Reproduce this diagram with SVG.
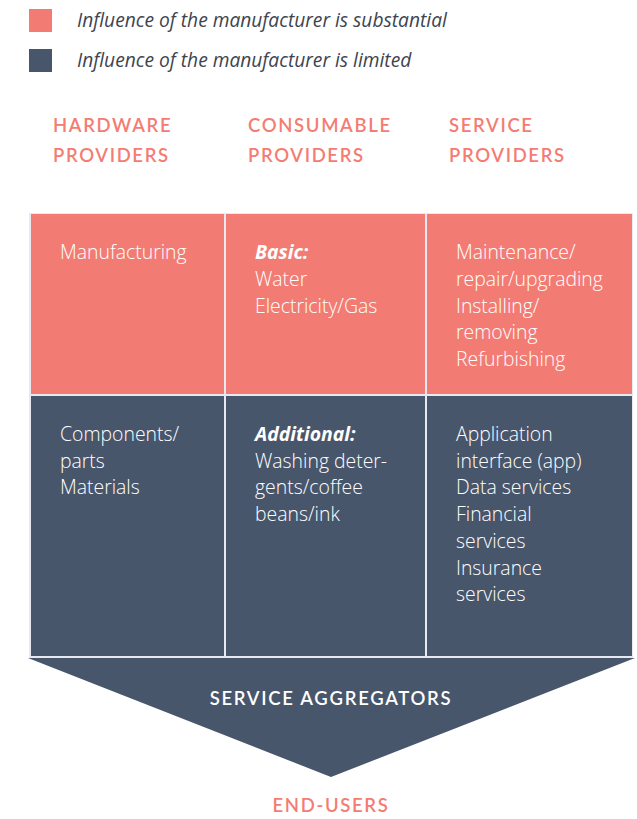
<svg xmlns="http://www.w3.org/2000/svg" width="637" height="819" viewBox="0 0 637 819">
<style>
.leg{font-family:"Open Sans",sans-serif;font-style:italic;font-size:19.2px;fill:#3d4450}
.hdr{font-family:"Lato",sans-serif;font-weight:600;font-size:18.5px;fill:#f47c72;letter-spacing:1.65px}
.cell{font-family:"Open Sans",sans-serif;font-weight:300;font-size:19.4px;fill:#ffffff}
.b{font-weight:bold;font-style:italic}
.pink{fill:#f27c73}
.dark{fill:#48566c}
.agg{font-family:"Lato",sans-serif;font-weight:600;font-size:18.5px;fill:#ffffff;letter-spacing:1.7px}
</style>
<rect width="637" height="819" fill="#ffffff"/>
<g id="legend">
<rect class="pink" x="29" y="9" width="23" height="23"/>
<text class="leg" x="77" y="27">Influence of the manufacturer is substantial</text>
<rect class="dark" x="29" y="49" width="23" height="23"/>
<text class="leg" x="77" y="67">Influence of the manufacturer is limited</text>
</g>
<g id="headers">
<text class="hdr" x="53" y="132">HARDWARE</text>
<text class="hdr" x="53" y="162">PROVIDERS</text>
<text class="hdr" x="248" y="132">CONSUMABLE</text>
<text class="hdr" x="248" y="162">PROVIDERS</text>
<text class="hdr" x="449" y="132">SERVICE</text>
<text class="hdr" x="449" y="162">PROVIDERS</text>
</g>
<rect x="29" y="213" width="604" height="445" fill="#e6e9ef"/>
<g id="hw-top">
<rect class="pink" x="31" y="214" width="193" height="180"/>
<text class="cell" x="60" y="259">Manufacturing</text>
</g>
<g id="cons-top">
<rect class="pink" x="226" y="214" width="199" height="180"/>
<text class="cell" x="255" y="259"><tspan class="b">Basic:</tspan><tspan x="255" dy="26.8">Water</tspan><tspan x="255" dy="26.8">Electricity/Gas</tspan></text>
</g>
<g id="svc-top">
<rect class="pink" x="427" y="214" width="205" height="180"/>
<text class="cell" x="456" y="259">Maintenance/<tspan x="456" dy="26.8">repair/upgrading</tspan><tspan x="456" dy="26.8">Installing/</tspan><tspan x="456" dy="26.8">removing</tspan><tspan x="456" dy="26.8">Refurbishing</tspan></text>
</g>
<g id="hw-bottom">
<rect class="dark" x="31" y="396" width="193" height="260"/>
<text class="cell" x="60" y="441">Components/<tspan x="60" dy="26.7">parts</tspan><tspan x="60" dy="26.7">Materials</tspan></text>
</g>
<g id="cons-bottom">
<rect class="dark" x="226" y="396" width="199" height="260"/>
<text class="cell" x="255" y="441"><tspan class="b">Additional:</tspan><tspan x="255" dy="26.7">Washing deter-</tspan><tspan x="255" dy="26.7">gents/coffee</tspan><tspan x="255" dy="26.7">beans/ink</tspan></text>
</g>
<g id="svc-bottom">
<rect class="dark" x="427" y="396" width="205" height="260"/>
<text class="cell" x="456" y="441">Application<tspan x="456" dy="26.7">interface (app)</tspan><tspan x="456" dy="26.7">Data services</tspan><tspan x="456" dy="26.7">Financial</tspan><tspan x="456" dy="26.7">services</tspan><tspan x="456" dy="26.7">Insurance</tspan><tspan x="456" dy="26.7">services</tspan></text>
</g>
<g id="aggregators">
<polygon class="dark" points="28,658 635,658 331,777"/>
<text class="agg" x="331" y="705" text-anchor="middle">SERVICE AGGREGATORS</text>
</g>
<g id="end-users">
<text class="hdr" x="331" y="812" text-anchor="middle">END-USERS</text>
</g>
<g id="connectors"></g>
</svg>
